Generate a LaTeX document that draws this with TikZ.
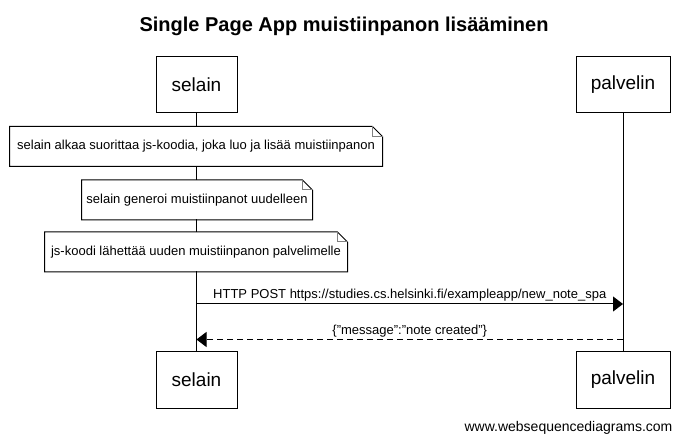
\documentclass[tikz,border=0pt]{standalone}
\usepackage{fontspec}
\setmainfont{Liberation Sans}
\usetikzlibrary{arrows.meta}

\begin{document}
\begin{tikzpicture}[x=1pt,y=-1pt,
	> = {Triangle[length=10pt,width=15pt]}, % arrow head style
	line width=1pt, % line style
	actor/.style={draw,fill=white,minimum height=56pt,font=\fontsize{19}{22}\selectfont},
	notebox/.style={fill=white,minimum height=39pt,inner sep=0pt,font=\fontsize{13}{15}\selectfont},
	msg/.style={font=\fontsize{13}{15}\selectfont,inner sep=0pt}]
	\useasboundingbox (0,0) rectangle (685,443);

	\node[anchor=base,font=\bfseries\fontsize{20}{24}\selectfont] (title) at (344,31.5) {Single Page App muistiinpanon lisääminen};

	\node[actor,minimum width=81pt] (selain1) at (196.5,85) {selain};
	\node[actor,minimum width=94pt] (palvelin1) at (623,85) {palvelin};
	\node[actor,minimum width=81pt] (selain2) at (196.5,380) {selain};
	\node[actor,minimum width=94pt] (palvelin2) at (623,380) {palvelin};

	\draw (selain1) -- (selain2);
	\draw (palvelin1) -- (palvelin2);

	\node[notebox,minimum width=372pt] (note1) at (196,146.5) {selain alkaa suorittaa js-koodia, joka luo ja lisää muistiinpanon};
	\node[notebox,minimum width=230pt] (note2) at (197,200) {selain generoi muistiinpanot uudelleen};
	\node[notebox,minimum width=302pt] (note3) at (196,252) {js-koodi lähettää uuden muistiinpanon palvelimelle};

	\foreach \n in {note1,note2,note3} {
		\draw (\n.south west) -- (\n.north west) -- ([xshift=-10pt]\n.north east)
			-- ([yshift=-10pt]\n.north east) -- (\n.south east) -- cycle;
		\draw[gray] ([xshift=-10pt]\n.north east) -- ++(0,10) -- ++(10,0);
	}

	\coordinate (s1) at (196.5,304);
	\coordinate (p1) at (623,304);
	\coordinate (s2) at (196.5,339.5);
	\coordinate (p2) at (623,339.5);

	\draw[->] (s1) -- node[msg,above=2pt] {HTTP POST https://studies.cs.helsinki.fi/exampleapp/new\_note\_spa} (p1);
	\draw[->,dash pattern=on 6pt off 4pt] (p2) -- node[msg,above=2pt] {\{"message":"note created"\}} (s2);

	\node[msg,anchor=base,font=\fontsize{14}{16}\selectfont] (footer) at (568.5,431) {www.websequencediagrams.com};

\end{tikzpicture}
\end{document}
